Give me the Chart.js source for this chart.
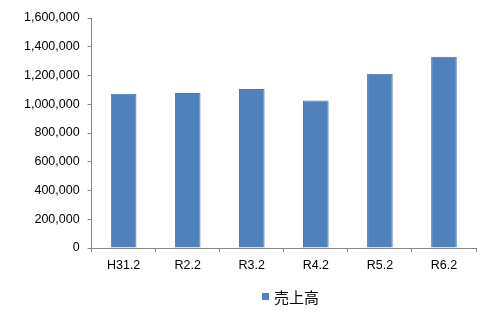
<!DOCTYPE html>
<html>
<head>
<meta charset="utf-8">
<script src="https://cdn.jsdelivr.net/npm/chart.js@4/dist/chart.umd.min.js"></script>
<style>
  html, body { margin: 0; padding: 0; background: #fff; }
  #wrap { position: relative; width: 500px; height: 313px; }
  #legend { position: absolute; left: 262px; top: 286px; font: 15px "Noto Sans CJK JP", sans-serif; color: #000; display: flex; align-items: center; }
  #legend span.box { display: inline-block; width: 7px; height: 7px; background: #4F81BD; margin-right: 5px; }
</style>
</head>
<body>
<div id="wrap">
  <canvas id="salesChart" width="500" height="313"></canvas>
  <div id="legend"><span class="box"></span><span id="legendLabel"></span></div>
</div>
<script>
// 売上高 by fiscal period
const periods = ['H31.2', 'R2.2', 'R3.2', 'R4.2', 'R5.2', 'R6.2'];
const sales = [1073000, 1078000, 1106000, 1026000, 1212000, 1330000];
const seriesName = '売上高';

const axisGrey = '#868686';

document.getElementById('legendLabel').textContent = seriesName;

new Chart(document.getElementById('salesChart').getContext('2d'), {
  type: 'bar',
  data: {
    labels: periods,
    datasets: [{
      label: seriesName,
      data: sales,
      backgroundColor: '#4F81BD',
      borderColor: '#4677B2',
      borderWidth: 1,
      barPercentage: 0.4,
      categoryPercentage: 1.0
    }]
  },
  options: {
    responsive: false,
    animation: false,
    layout: { padding: { left: 16, right: 24, top: 18, bottom: 34 } },
    plugins: { legend: { display: false }, tooltip: { enabled: false } },
    scales: {
      x: {
        grid: { display: true, drawOnChartArea: false, offset: true, color: axisGrey, tickLength: 4 },
        border: { color: axisGrey },
        ticks: { color: '#000', padding: 6, font: { family: 'Liberation Sans', size: 12.5 } }
      },
      y: {
        min: 0,
        max: 1600000,
        grid: { display: true, drawOnChartArea: false, color: axisGrey, tickLength: 4 },
        border: { color: axisGrey },
        ticks: {
          stepSize: 200000,
          color: '#000',
          padding: 8,
          font: { family: 'Liberation Sans', size: 12.5 },
          callback: v => v.toLocaleString('en-US')
        }
      }
    }
  }
});
</script>
</body>
</html>
